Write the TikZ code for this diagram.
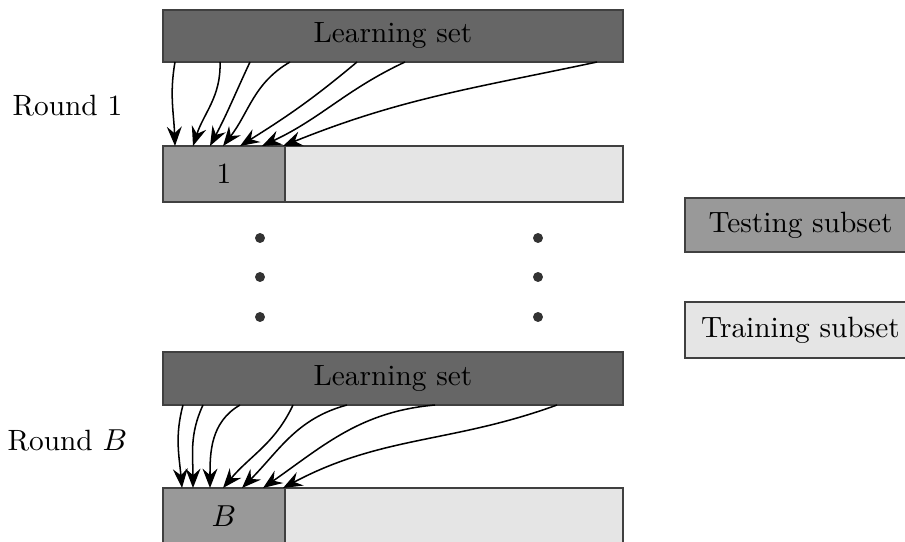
\documentclass[tikz,border=0pt]{standalone}
\usetikzlibrary{arrows.meta,fit}
\begin{document}
\begin{tikzpicture}[x=0.3612pt,y=-0.3612pt,
  every node/.style={font=\fontsize{10.6pt}{13pt}\selectfont},
  every label/.style={font=\fontsize{10.6pt}{13pt}\selectfont},
  setbox/.style={draw=black!75,line width=0.4pt,inner sep=0pt},
  learnbox/.style={setbox,fill=black!60},
  testbox/.style={setbox,fill=black!40},
  trainbox/.style={setbox,fill=black!10},
  pick/.style={-{Stealth[length=7pt,width=5.4pt,inset=2.4pt]},line width=0.55pt},
  vdot/.style={circle,fill=black!80,inner sep=0pt,minimum size=3.6pt}]
\clip (0,0) rectangle (905,542);
\useasboundingbox (0,0) rectangle (905,542);

% round 1
\node[learnbox,fit={(163,10)(623,62)},label=center:Learning set] (ls1) {};
\node[testbox,fit={(163,146)(285,202)},label=center:1] (te1) {};
\node[trainbox,fit={(285,146)(623,202)}] (tr1) {};
\node[anchor=base west,inner sep=0pt] (r1) at (12,116) {Round 1};

% dots between the rounds
\foreach \y [count=\i] in {238,277,317} {
  \node[vdot] (dl\i) at (260,\y) {};
  \node[vdot] (dr\i) at (538,\y) {};
}

% round B
\node[learnbox,fit={(163,352)(623,405)},label=center:Learning set] (lsB) {};
\node[testbox,fit={(163,488)(285,545)},label=center:$B$] (teB) {};
\node[trainbox,fit={(285,488)(623,545)}] (trB) {};
\node[anchor=base west,inner sep=0pt] (rB) at (7,450) {Round $B$};

% legend
\node[testbox,fit={(685,198)(916,252)},label=center:Testing subset] (legte) {};
\node[trainbox,fit={(685,302)(916,358)},label=center:Training subset] (legtr) {};

% draws of round 1
\foreach \sx/\ex/\o/\n [count=\k] in {175/175/-100/92, 220/193/-88/72, 250/210/-115/62,
    290/223/-150/52, 357/240/-140/32, 405/262/-155/25, 597/283/-168/22} {
  \coordinate (s1\k) at (\sx,62);
  \coordinate (e1\k) at (\ex,146);
  \draw[pick] (s1\k) to[out=\o,in=\n] (e1\k);
}

% draws of round B
\foreach \sx/\ex/\o/\n [count=\k] in {183/182/-105/95, 203/193/-115/90, 240/210/-150/90,
    293/223/-115/50, 347/242/-165/45, 435/263/-175/35, 557/283/-160/28} {
  \coordinate (sB\k) at (\sx,405);
  \coordinate (eB\k) at (\ex,488);
  \draw[pick] (sB\k) to[out=\o,in=\n] (eB\k);
}
\end{tikzpicture}
\end{document}
